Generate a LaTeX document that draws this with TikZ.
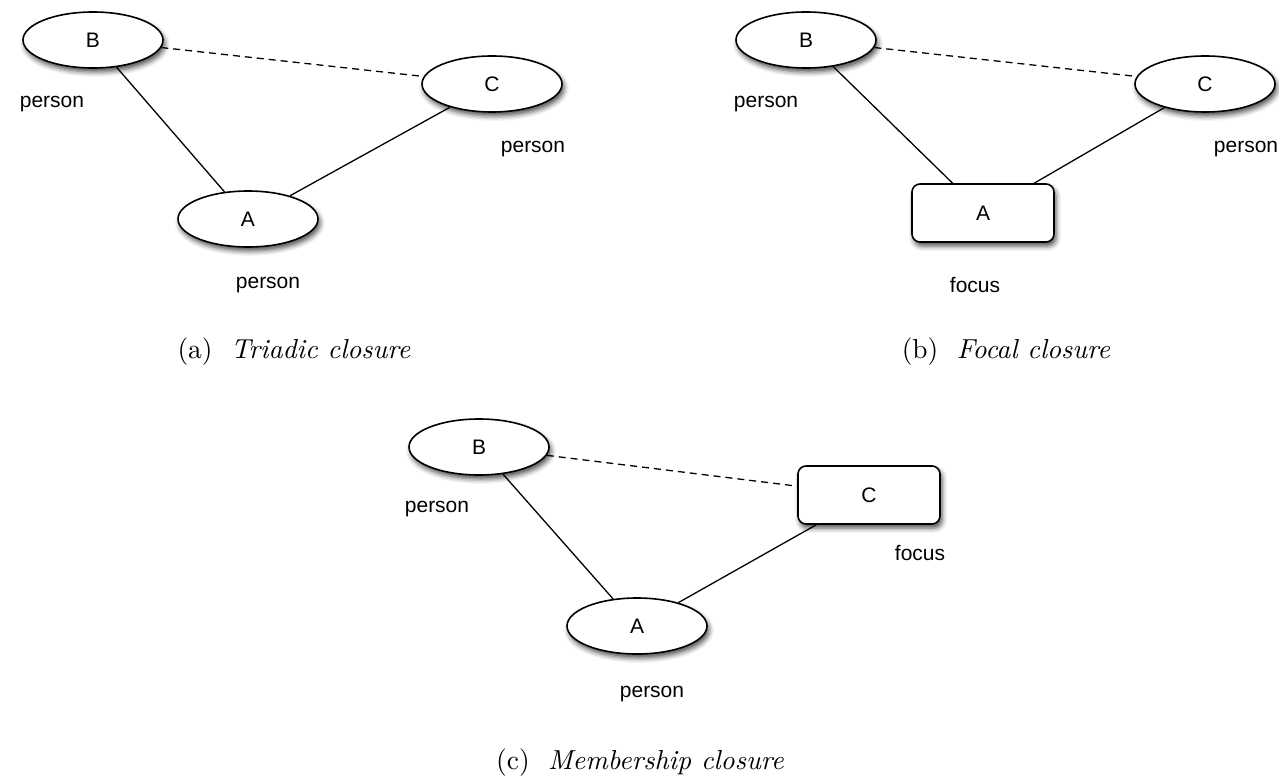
\documentclass[tikz,border=0pt]{standalone}
\usepackage{fontspec}
\setsansfont{Liberation Sans}
\newfontfamily\capfont{lmroman10}[Extension=.otf,UprightFont=*-regular,ItalicFont=*-italic]
\usetikzlibrary{shapes.geometric,shadows.blur}
\tikzset{
  soft/.style={blur shadow={shadow xshift=2pt,shadow yshift=-4pt,shadow blur radius=5pt,shadow opacity=70}},
  person/.style={ellipse,draw,line width=1.6pt,fill=white,minimum width=140pt,minimum height=56pt,inner sep=0pt,soft,font=\sffamily\fontsize{21}{24}\selectfont},
  focusbox/.style={rectangle,rounded corners=8pt,draw,line width=1.6pt,fill=white,minimum width=142pt,minimum height=58pt,inner sep=0pt,soft,font=\sffamily\fontsize{21}{24}\selectfont},
  lab/.style={font=\sffamily\fontsize{21}{24}\selectfont,inner sep=0pt},
  caption/.style={font=\capfont\fontsize{27.5}{32}\selectfont,inner sep=0pt},
  tie/.style={line width=1.3pt},
  weak/.style={line width=1.3pt,dash pattern=on 7pt off 5pt},
}
\begin{document}
\begin{tikzpicture}[x=1pt,y=-1pt]
\useasboundingbox (0,0) rectangle (1279,778);
% (a) triadic closure
\node[person] (aB) at (93,40) {B};
\node[person] (aC) at (492,84) {C};
\node[person] (aA) at (248,219) {A};
\draw[tie] (aB) -- (aA);
\draw[tie] (aA) -- (aC);
\draw[weak] (aB) -- (aC);
\node[lab] (aBl) at (52,104) {person};
\node[lab] (aCl) at (533,149) {person};
\node[lab] (aAl) at (268,285) {person};
\node[caption] (acap) at (294,352) {(a)\ \ \textit{Triadic closure}};
% (b) focal closure
\node[person] (bB) at (806,40) {B};
\node[person] (bC) at (1205,84) {C};
\node[focusbox] (bA) at (983,213) {A};
\draw[tie] (bB) -- (bA);
\draw[tie] (bA) -- (bC);
\draw[weak] (bB) -- (bC);
\node[lab] (bBl) at (766,104) {person};
\node[lab] (bCl) at (1246,149) {person};
\node[lab] (bAl) at (975,285) {focus};
\node[caption] (bcap) at (1006,352) {(b)\ \ \textit{Focal closure}};
% (c) membership closure
\node[person] (cB) at (479,447) {B};
\node[focusbox] (cC) at (869,495) {C};
\node[person] (cA) at (637,626) {A};
\draw[tie] (cB) -- (cA);
\draw[tie] (cA) -- (cC);
\draw[weak] (cB) -- (cC);
\node[lab] (cBl) at (437,509) {person};
\node[lab] (cCl) at (920,553) {focus};
\node[lab] (cAl) at (652,694) {person};
\node[caption] (ccap) at (640,763) {(c)\ \ \textit{Membership closure}};
\end{tikzpicture}
\end{document}
